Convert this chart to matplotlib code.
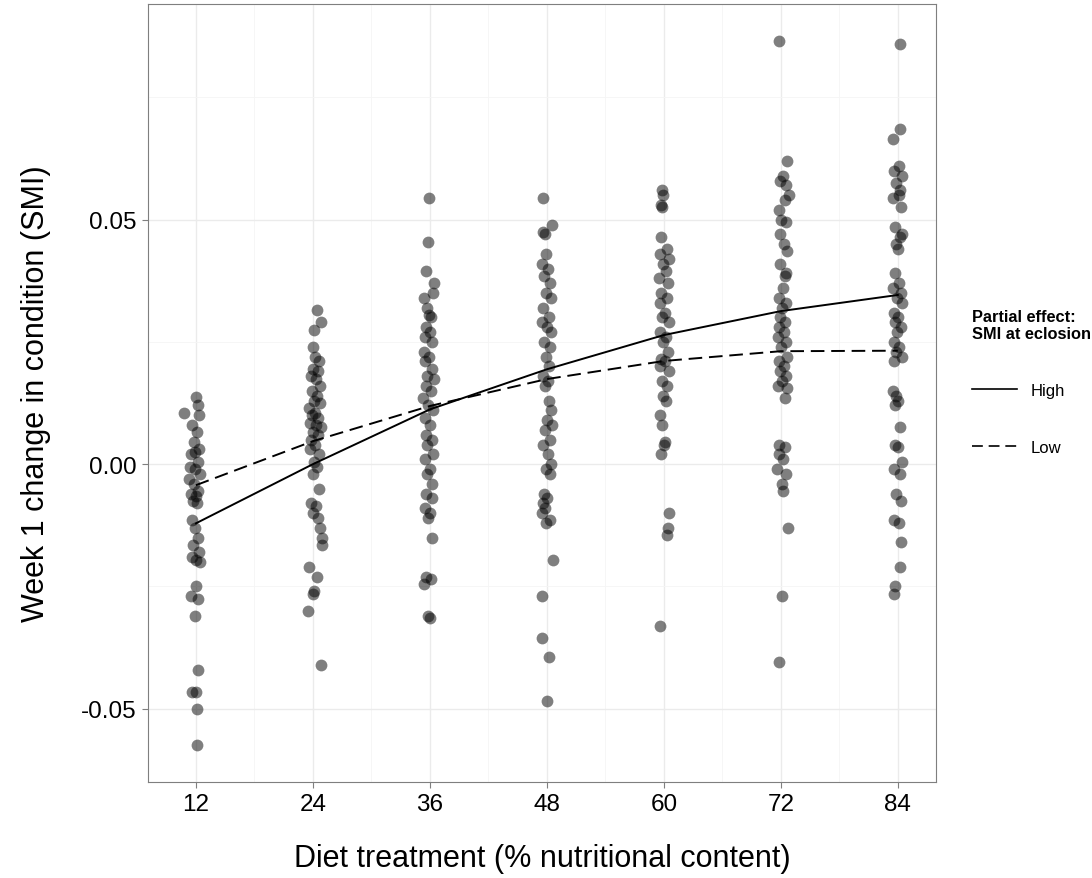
import matplotlib
matplotlib.use("Agg")
import matplotlib.pyplot as plt
from matplotlib.lines import Line2D
from matplotlib.ticker import MultipleLocator

plt.rcParams['font.family'] = ['Liberation Sans', 'DejaVu Sans']

diet = [12, 24, 36, 48, 60, 72, 84]
tick_labels = ["12", "24", "36", "48", "60", "72", "84"]

# observed points per diet group: (x, y)
pts_12 = [(12.0, 0.0137), (12.2, 0.0120), (10.8, 0.0105), (12.3, 0.0100), (11.6, 0.0080), (12.1, 0.0065),
          (11.8, 0.0045), (12.3, 0.0030), (11.9, 0.0025), (11.5, 0.0020), (12.2, 0.0005), (11.4, -0.0005),
          (11.9, -0.0010), (12.4, -0.0020), (11.3, -0.0030), (11.8, -0.0040), (12.2, -0.0055), (11.5, -0.0060),
          (12.0, -0.0065), (11.7, -0.0075), (12.1, -0.0080), (11.6, -0.0115), (11.9, -0.0130), (12.2, -0.0150),
          (11.7, -0.0165), (12.3, -0.0180), (11.6, -0.0190), (12.0, -0.0195), (12.4, -0.0200), (12.0, -0.0250),
          (11.5, -0.0270), (12.2, -0.0275), (11.9, -0.0310), (12.2, -0.0420), (11.6, -0.0465), (12.0, -0.0465),
          (12.1, -0.0500), (12.1, -0.0575)]
pts_24 = [(24.4, 0.0315), (24.8, 0.0290), (24.1, 0.0275), (24.0, 0.0240), (24.2, 0.0220), (24.6, 0.0210),
          (24.0, 0.0195), (24.5, 0.0190), (23.8, 0.0180), (24.3, 0.0175), (24.7, 0.0160), (23.9, 0.0150),
          (24.4, 0.0140), (24.1, 0.0130), (24.7, 0.0125), (23.6, 0.0115), (24.2, 0.0105), (23.9, 0.0100),
          (24.5, 0.0095), (23.7, 0.0085), (24.3, 0.0080), (24.8, 0.0075), (24.0, 0.0065), (24.5, 0.0060),
          (23.8, 0.0050), (24.2, 0.0040), (23.7, 0.0030), (24.6, 0.0020), (24.1, 0.0005), (24.4, -0.0005),
          (24.0, -0.0020), (24.6, -0.0050), (23.8, -0.0080), (24.3, -0.0085), (24.0, -0.0100), (24.5, -0.0110),
          (24.7, -0.0130), (24.9, -0.0150), (24.9, -0.0165), (23.6, -0.0210), (24.4, -0.0230), (24.1, -0.0260),
          (24.0, -0.0265), (23.5, -0.0300), (24.8, -0.0410)]
pts_36 = [(35.9, 0.0545), (35.8, 0.0455), (35.6, 0.0395), (36.4, 0.0370), (36.3, 0.0350), (35.4, 0.0340),
          (35.7, 0.0320), (35.9, 0.0305), (36.1, 0.0300), (35.6, 0.0280), (36.0, 0.0270), (35.5, 0.0260),
          (36.2, 0.0250), (35.4, 0.0230), (35.9, 0.0220), (35.5, 0.0210), (36.2, 0.0195), (35.7, 0.0180),
          (36.4, 0.0175), (35.6, 0.0160), (36.1, 0.0150), (35.3, 0.0135), (35.8, 0.0120), (36.3, 0.0110),
          (35.5, 0.0095), (36.0, 0.0080), (35.6, 0.0060), (36.2, 0.0050), (35.7, 0.0040), (36.3, 0.0020),
          (35.5, 0.0010), (36.0, -0.0010), (35.7, -0.0020), (36.2, -0.0040), (35.6, -0.0060), (36.2, -0.0070),
          (35.5, -0.0090), (36.0, -0.0100), (35.8, -0.0110), (36.2, -0.0150), (35.6, -0.0230), (35.4, -0.0245),
          (36.1, -0.0235), (35.8, -0.0310), (36.0, -0.0315)]
pts_48 = [(47.6, 0.0545), (48.5, 0.0490), (47.6, 0.0475), (47.8, 0.0470), (47.9, 0.0430), (47.5, 0.0410),
          (48.1, 0.0400), (47.7, 0.0385), (48.3, 0.0370), (47.9, 0.0350), (48.4, 0.0340), (47.6, 0.0320),
          (48.2, 0.0300), (47.5, 0.0290), (48.0, 0.0280), (48.4, 0.0270), (47.7, 0.0250), (48.3, 0.0240),
          (47.9, 0.0220), (48.2, 0.0200), (47.6, 0.0180), (48.1, 0.0170), (47.8, 0.0160), (48.2, 0.0130),
          (48.4, 0.0110), (48.0, 0.0090), (48.5, 0.0080), (47.8, 0.0070), (48.3, 0.0050), (47.6, 0.0040),
          (48.1, 0.0020), (48.4, 0.0000), (47.9, -0.0010), (48.3, -0.0020), (47.7, -0.0060), (48.0, -0.0070),
          (47.6, -0.0080), (47.8, -0.0090), (47.5, -0.0100), (48.3, -0.0115), (47.9, -0.0120), (48.6, -0.0195),
          (47.5, -0.0270), (47.5, -0.0355), (48.2, -0.0395), (48.0, -0.0485)]
pts_60 = [(59.8, 0.0560), (59.9, 0.0550), (59.7, 0.0530), (59.8, 0.0525), (59.7, 0.0465), (60.3, 0.0440),
          (59.6, 0.0430), (60.5, 0.0420), (59.9, 0.0410), (60.2, 0.0395), (59.5, 0.0380), (60.4, 0.0370),
          (59.7, 0.0350), (60.3, 0.0340), (59.6, 0.0330), (60.1, 0.0310), (59.8, 0.0300), (60.5, 0.0290),
          (59.6, 0.0270), (60.2, 0.0260), (59.9, 0.0250), (60.4, 0.0230), (59.7, 0.0215), (60.1, 0.0210),
          (59.6, 0.0200), (60.5, 0.0190), (59.8, 0.0170), (60.3, 0.0160), (59.9, 0.0140), (60.2, 0.0130),
          (59.6, 0.0100), (59.8, 0.0080), (60.1, 0.0045), (60.0, 0.0040), (59.7, 0.0020), (60.5, -0.0100),
          (60.4, -0.0130), (60.3, -0.0145), (59.6, -0.0330)]
pts_72 = [(71.8, 0.0865), (72.6, 0.0620), (72.2, 0.0590), (71.9, 0.0580), (72.5, 0.0570), (72.8, 0.0550),
          (72.4, 0.0540), (71.8, 0.0520), (72.0, 0.0500), (72.5, 0.0495), (71.9, 0.0470), (72.3, 0.0450),
          (72.6, 0.0435), (71.9, 0.0410), (72.5, 0.0390), (72.4, 0.0385), (72.2, 0.0360), (71.8, 0.0340),
          (72.5, 0.0330), (72.1, 0.0320), (71.9, 0.0300), (72.4, 0.0290), (71.8, 0.0280), (72.3, 0.0270),
          (71.7, 0.0260), (72.5, 0.0250), (72.0, 0.0240), (72.6, 0.0220), (71.8, 0.0210), (72.3, 0.0200),
          (71.9, 0.0190), (72.5, 0.0180), (72.1, 0.0170), (71.7, 0.0160), (72.6, 0.0155), (72.4, 0.0135),
          (71.8, 0.0040), (72.4, 0.0035), (71.8, 0.0020), (72.2, 0.0010), (71.6, -0.0010), (72.5, -0.0020),
          (72.1, -0.0040), (72.2, -0.0055), (72.7, -0.0130), (72.1, -0.0270), (71.8, -0.0405)]
pts_84 = [(84.2, 0.0860), (84.2, 0.0685), (83.5, 0.0665), (84.1, 0.0610), (83.6, 0.0600), (84.4, 0.0590),
          (83.8, 0.0575), (84.2, 0.0560), (84.1, 0.0550), (83.5, 0.0545), (84.3, 0.0525), (83.7, 0.0485),
          (84.4, 0.0470), (84.2, 0.0465), (83.8, 0.0450), (84.0, 0.0440), (83.7, 0.0390), (84.1, 0.0370),
          (83.5, 0.0360), (84.3, 0.0350), (83.9, 0.0340), (84.4, 0.0330), (83.6, 0.0310), (84.0, 0.0300),
          (83.7, 0.0290), (84.3, 0.0280), (83.9, 0.0270), (83.6, 0.0250), (84.1, 0.0240), (83.8, 0.0230),
          (84.4, 0.0220), (83.6, 0.0210), (83.5, 0.0150), (83.8, 0.0140), (84.0, 0.0130), (83.7, 0.0120),
          (84.2, 0.0075), (83.7, 0.0040), (84.0, 0.0035), (84.4, 0.0005), (83.6, -0.0010), (84.2, -0.0020),
          (83.8, -0.0060), (84.3, -0.0075), (83.6, -0.0115), (84.1, -0.0120), (84.3, -0.0160), (84.2, -0.0210),
          (83.7, -0.0250), (83.6, -0.0265)]

groups = [pts_12, pts_24, pts_36, pts_48, pts_60, pts_72, pts_84]

# partial effect predictions
high = [-0.0121, 0.0000, 0.0112, 0.0194, 0.0264, 0.0313, 0.0346]
low = [-0.0043, 0.0047, 0.0119, 0.0174, 0.0211, 0.0231, 0.0232]

fig = plt.figure(figsize=(10.92, 8.79), dpi=100)
ax = fig.add_axes([0.1355, 0.1092, 0.7215, 0.8851])

for g in groups:
    xs = [p[0] for p in g]
    ys = [p[1] for p in g]
    ax.scatter(xs, ys, s=72, color='black', alpha=0.5, linewidths=0, zorder=3)

ax.plot(diet, high, color='black', lw=1.4, zorder=4, label='High')
ax.plot(diet, low, color='black', lw=1.4, ls=(0, (7, 3.5)), zorder=4, label='Low')

ax.set_xlim(7.08, 87.9)
ax.set_ylim(-0.065, 0.0941)
ax.set_xticks(diet)
ax.set_xticklabels(tick_labels)
ax.set_yticks([-0.05, 0.0, 0.05])
ax.set_yticklabels(["-0.05", "0.00", "0.05"])
ax.xaxis.set_minor_locator(MultipleLocator(6))
ax.yaxis.set_minor_locator(MultipleLocator(0.025))
ax.grid(which='major', color='#ebebeb', lw=1.0, zorder=0)
ax.grid(which='minor', color='#f5f5f5', lw=0.6, zorder=0)
ax.set_axisbelow(True)
ax.tick_params(which='minor', length=0)
ax.tick_params(which='major', length=4, color='#7f7f7f', labelsize=17.5, labelcolor='black', pad=4)
for s in ax.spines.values():
    s.set_color('#7f7f7f')
    s.set_linewidth(0.8)

ax.set_xlabel("Diet treatment (% nutritional content)", fontsize=22, labelpad=20)
ax.set_ylabel("Week 1 change in condition (SMI)", fontsize=22, labelpad=22)

handles = [Line2D([], [], color='black', lw=1.2),
           Line2D([], [], color='black', lw=1.2, ls=(0, (6.5, 3.5)))]
leg = fig.legend(handles, ['High', 'Low'], title="Partial effect:\nSMI at eclosion",
                 loc='upper left', bbox_to_anchor=(0.884, 0.655), frameon=False,
                 fontsize=12, title_fontsize=11.8, handlelength=2.7, labelspacing=2.5,
                 borderaxespad=0, handletextpad=0.8)
leg.get_title().set_fontweight('bold')
leg._legend_box.align = "left"

fig.savefig("out.png", dpi=100)
